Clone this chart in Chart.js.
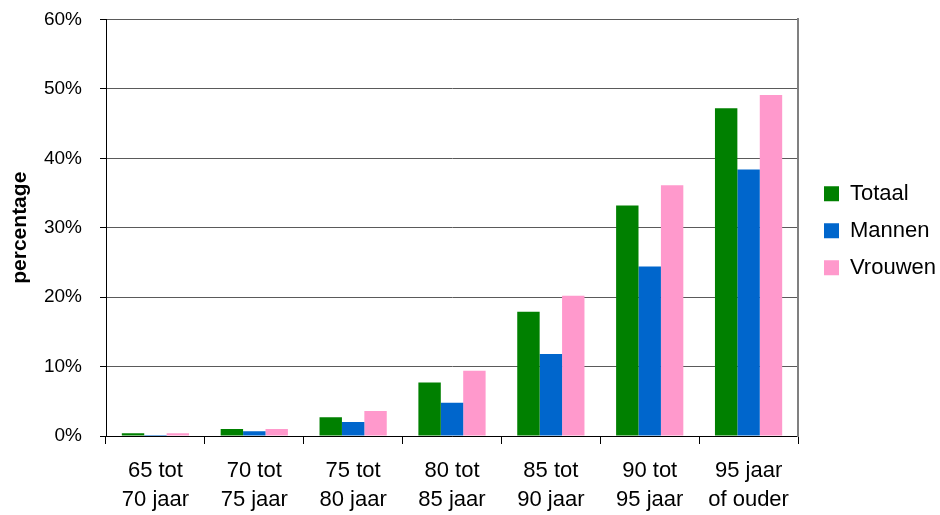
<!DOCTYPE html>
<html>
<head>
<meta charset="utf-8">
<script src="https://cdn.jsdelivr.net/npm/chart.js@4"></script>
<style>
  html, body { margin: 0; padding: 0; background: #fff; overflow: hidden; }
  #wrap { width: 940px; height: 515px; position: relative; }
</style>
</head>
<body>
<div id="wrap"><canvas id="chart"></canvas></div>
<script>
const categories = [
  ['65 tot', '70 jaar'],
  ['70 tot', '75 jaar'],
  ['75 tot', '80 jaar'],
  ['80 tot', '85 jaar'],
  ['85 tot', '90 jaar'],
  ['90 tot', '95 jaar'],
  ['95 jaar', 'of ouder']
];
const totaal  = [0.4, 1.0, 2.7, 7.7, 17.9, 33.2, 47.2];
const mannen  = [0.15, 0.7, 2.0, 4.8, 11.8, 24.4, 38.4];
const vrouwen = [0.4, 1.0, 3.6, 9.4, 20.2, 36.1, 49.1];
const yTicks = [0, 10, 20, 30, 40, 50, 60];

const FONT = 'Liberation Sans, Arial, sans-serif';
Chart.defaults.font.family = FONT;
Chart.defaults.color = '#000';

// nudge the legend a bit, like the original
const legendShift = {
  id: 'legendShift',
  afterLayout(chart) {
    chart.legend.left += 3;
    chart.legend.right += 3;
    chart.legend.top += 3;
    chart.legend.bottom += 3;
  }
};

new Chart(document.getElementById('chart'), {
  type: 'bar',
  data: {
    labels: categories,
    datasets: [
      { label: 'Totaal', data: totaal, backgroundColor: '#008000' },
      { label: 'Mannen', data: mannen, backgroundColor: '#0066CC' },
      { label: 'Vrouwen', data: vrouwen, backgroundColor: '#FF99CC' }
    ]
  },
  options: {
    responsive: true,
    maintainAspectRatio: false,
    animation: false,
    datasets: { bar: { categoryPercentage: 0.68, barPercentage: 1.0, borderWidth: 0 } },
    layout: { padding: { top: 12, right: 0, bottom: 0, left: 0 } },
    plugins: {
      tooltip: { enabled: false },
      legend: {
        position: 'right',
        fullSize: false,
        maxWidth: 134,
        labels: {
          boxWidth: 15,
          boxHeight: 15,
          padding: 15,
          font: { size: 22 },
          color: '#000'
        }
      }
    },
    scales: {
      x: {
        grid: { display: true, drawOnChartArea: false, drawTicks: true, tickLength: 8, color: '#000', offset: true },
        border: { color: '#000', width: 1 },
        ticks: { font: { size: 22, lineHeight: 1.33 }, padding: 12, maxRotation: 0, color: '#000' },
        afterFit: (scale) => { scale.height = 79; }
      },
      y: {
        min: 0,
        max: 60,
        afterBuildTicks: (scale) => { scale.ticks = yTicks.map(v => ({ value: v })); },
        grid: { color: '#5a5a5a', lineWidth: 1, tickColor: '#000', tickLength: 6 },
        border: { color: '#000', width: 1 },
        ticks: { font: { size: 19, lineHeight: 0.15 }, padding: 18, color: '#000', callback: v => v + '%' },
        title: { display: true, text: 'percentage', font: { size: 21, weight: 'bold' }, color: '#000', padding: { top: 8, bottom: 0 } },
        afterFit: (scale) => { scale.width = 106; }
      },
      y2: {
        position: 'right',
        min: 0,
        max: 60,
        grid: { display: false },
        ticks: { display: false },
        border: { color: '#808080', width: 2 }
      }
    }
  },
  plugins: [legendShift]
});
</script>
</body>
</html>
